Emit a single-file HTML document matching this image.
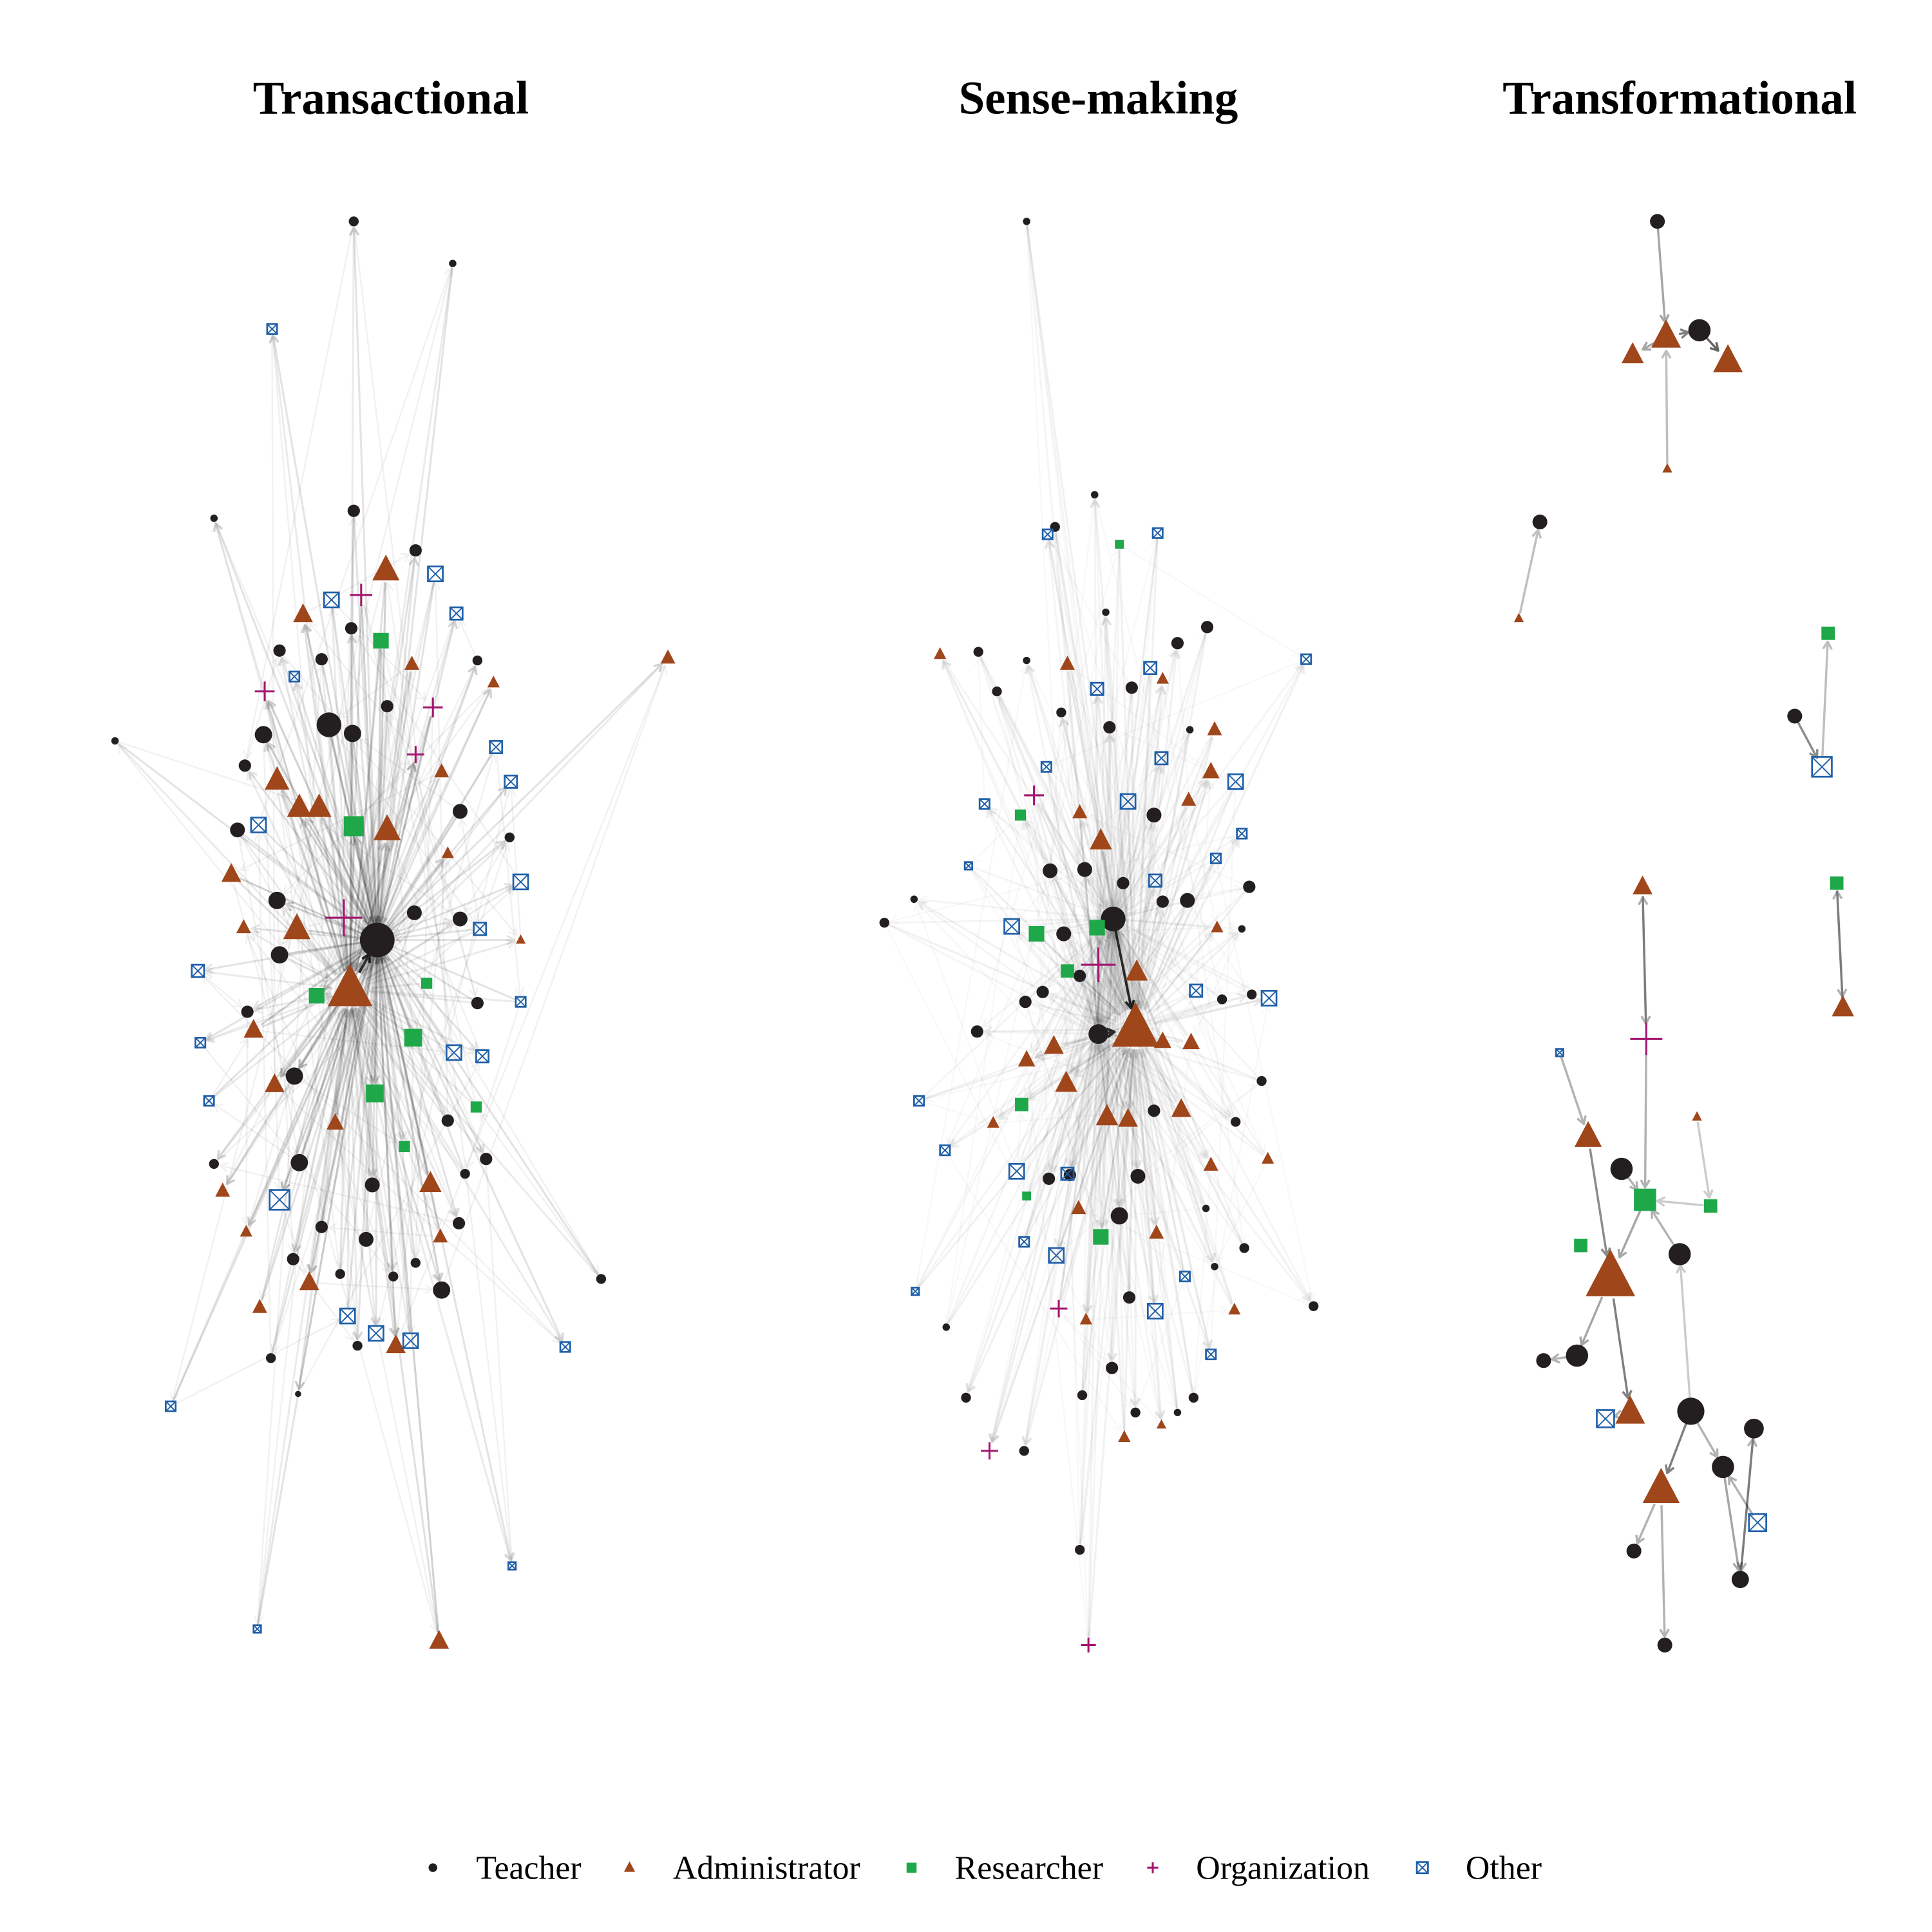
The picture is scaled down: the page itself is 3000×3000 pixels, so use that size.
<!DOCTYPE html>
<html><head><meta charset="utf-8"><style>
html,body{margin:0;padding:0;background:#fff;}
svg{display:block;}
</style></head><body>
<svg id="chart" width="3000" height="3000" viewBox="0 0 1562 1562" xmlns="http://www.w3.org/2000/svg">
<g font-family="'Liberation Serif',serif" font-weight="bold" font-size="38" text-anchor="middle" fill="#000">
<text x="316" y="92">Transactional</text>
<text x="888" y="92">Sense-making</text>
<text x="1358" y="92">Transformational</text>
</g>
<g id="edges"></g>
<g id="nodes"></g>
<g id="legend" font-family="'Liberation Serif',serif" font-size="27"></g>
</svg>
<script>
// node data: [x, y, type, size]
const p1Nodes=[[305,760,'T',14],[283,800,'A',18],
[286,179,'T',4],[366,213,'T',3],[173,419,'T',3],[286,413,'T',5],[336,445,'T',5],[93,599,'T',3],[226,526,'T',5],[260,533,'T',5],[284,508,'T',5],[313,571,'T',5],[386,534,'T',4],[266,586,'T',10],[213,594,'T',7],[285,593,'T',7],[198,619,'T',5],[372,656,'T',6],[412,677,'T',4],[192,671,'T',6],[224,728,'T',7],[335,738,'T',6],[372,743,'T',6],[226,772,'T',7],[200,818,'T',5],[386,811,'T',5],[238,870,'T',7],[362,906,'T',5],[173,941,'T',4],[242,940,'T',7],[393,937,'T',5],[376,949,'T',4],[301,958,'T',6],[260,992,'T',5],[371,989,'T',5],[296,1002,'T',6],[237,1018,'T',5],[275,1030,'T',4],[318,1032,'T',4],[336,1021,'T',4],[357,1043,'T',7],[486,1034,'T',4],[289,1088,'T',4],[219,1098,'T',4],[241,1127,'T',2.5],
[312,461,'A',11],[245,497,'A',8],[333,537,'A',6],[399,552,'A',5],[224,631,'A',10],[242,653,'A',10],[258,653,'A',10],[313,671,'A',11],[357,624,'A',6],[362,690,'A',5],[187,707,'A',8],[197,750,'A',6],[240,751,'A',11],[421,760,'A',4],[205,833,'A',8],[222,877,'A',8],[271,908,'A',7],[180,963,'A',6],[348,957,'A',9],[199,996,'A',5],[356,1000,'A',6],[250,1037,'A',8],[210,1057,'A',6],[320,1088,'A',8],[355,1327,'A',8],[540,532,'A',6],
[308,518,'R',7],[286,668,'R',9],[345,795,'R',5],[256,805,'R',7],[334,839,'R',8],[303,884,'R',8],[385,895,'R',5],[327,927,'R',5],
[292,481,'O',9],[214,559,'O',8],[350,572,'O',8],[336,610,'O',7],[278,742,'O',15],
[220,266,'X',4],[352,464,'X',6],[369,496,'X',5],[268,485,'X',6],[238,547,'X',4],[401,604,'X',5],[413,632,'X',5],[209,667,'X',6],[421,713,'X',6],[388,751,'X',5],[160,785,'X',5],[421,810,'X',4],[162,843,'X',4],[367,851,'X',6],[390,854,'X',5],[169,890,'X',4],[226,970,'X',8],[281,1064,'X',6],[304,1078,'X',6],[332,1084,'X',6],[457,1089,'X',4],[138,1137,'X',4],[414,1266,'X',3],[208,1317,'X',3]];
const p2Nodes=[[918,832,'A',19],[900,743,'T',10],[888,836,'T',8],
[830,179,'T',3],[885,400,'T',3],[853,426,'T',4],[894,495,'T',3],[976,507,'T',5],[952,520,'T',5],[791,527,'T',4],[830,534,'T',3],[806,559,'T',4],[858,576,'T',4],[915,556,'T',5],[897,588,'T',5],[962,590,'T',3],[933,659,'T',6],[849,704,'T',6],[877,703,'T',6],[908,714,'T',5],[940,729,'T',5],[960,728,'T',6],[739,727,'T',3],[715,746,'T',4],[860,755,'T',6],[1010,717,'T',5],[1004,751,'T',3],[873,789,'T',5],[790,834,'T',5],[829,810,'T',5],[843,802,'T',5],[988,808,'T',4],[1012,804,'T',4],[1020,874,'T',4],[999,907,'T',4],[933,898,'T',5],[848,953,'T',5],[865,950,'T',5],[920,951,'T',6],[975,977,'T',3],[905,983,'T',7],[1006,1009,'T',4],[982,1024,'T',3],[913,1049,'T',5],[1062,1056,'T',4],[765,1073,'T',3],[899,1106,'T',5],[875,1128,'T',4],[781,1130,'T',4],[965,1130,'T',4],[918,1142,'T',4],[952,1142,'T',3],[828,1173,'T',4],[873,1253,'T',4],
[760,529,'A',5],[863,537,'A',6],[940,549,'A',5],[982,590,'A',6],[979,624,'A',7],[961,647,'A',6],[873,657,'A',6],[890,680,'A',9],[984,750,'A',5],[919,786,'A',9],[830,857,'A',7],[852,846,'A',8],[940,842,'A',7],[963,843,'A',7],[862,876,'A',9],[895,903,'A',9],[912,905,'A',8],[955,897,'A',8],[803,908,'A',5],[1025,937,'A',5],[979,942,'A',6],[872,977,'A',6],[935,997,'A',6],[998,1059,'A',5],[878,1067,'A',5],[909,1162,'A',5],[939,1152,'A',4],
[905,440,'R',4],[825,659,'R',5],[838,755,'R',7],[887,750,'R',7],[863,785,'R',6],[826,893,'R',6],[830,967,'R',4],[890,1000,'R',7],
[836,643,'O',8],[888,780,'O',14],[856,1058,'O',7],[800,1173,'O',7],[880,1330,'O',6],
[847,432,'X',4],[936,431,'X',4],[887,557,'X',5],[930,540,'X',5],[1056,533,'X',4],[846,620,'X',4],[939,613,'X',5],[999,632,'X',6],[796,650,'X',4],[912,648,'X',6],[1004,674,'X',4],[783,700,'X',3],[934,712,'X',5],[983,694,'X',4],[818,749,'X',6],[967,801,'X',5],[1026,807,'X',6],[743,890,'X',4],[764,930,'X',4],[822,947,'X',6],[863,949,'X',5],[828,1004,'X',4],[854,1015,'X',6],[958,1032,'X',4],[934,1060,'X',6],[740,1044,'X',3],[979,1095,'X',4]];
const p3Nodes=[[1340,179,'T',6],[1374,267,'T',9],[1347,272,'A',12],[1320,287,'A',9],[1397,292,'A',12],[1348,379,'A',4],[1245,422,'T',6],[1228,500,'A',4],[1478,512,'R',6],[1451,579,'T',6],[1473,620,'X',8],[1485,714,'R',6],[1490,815,'A',9],[1328,717,'A',8],[1331,840,'O',13],[1261,851,'X',3],[1284,919,'A',11],[1372,903,'A',4],[1311,945,'T',9],[1330,970,'R',10],[1383,975,'R',6],[1278,1007,'R',6],[1358,1014,'T',9],[1302,1033,'A',20],[1275,1096,'T',9],[1248,1100,'T',6],[1298,1147,'X',7],[1318,1142,'A',12],[1367,1141,'T',11],[1418,1155,'T',8],[1393,1186,'T',9],[1343,1204,'A',15],[1421,1231,'X',7],[1321,1254,'T',6],[1407,1277,'T',7],[1346,1330,'T',6]];
// panel-3 directed edges [from, to, opacity]
const p3Edges=[[0,2,.35],[1,4,.6],[2,1,.5],[2,3,.35],[5,2,.25],[7,6,.25],[9,10,.45],[10,8,.25],[11,12,.3],[12,11,.3],[13,14,.3],[14,13,.3],[14,19,.3],[15,16,.3],[16,23,.45],[23,24,.35],[24,25,.3],[23,27,.5],[19,23,.35],[18,19,.3],[22,19,.3],[17,20,.2],[28,22,.2],[28,31,.5],[31,35,.3],[31,33,.3],[28,30,.3],[30,34,.35],[29,34,.3],[34,29,.3],[32,30,.3],[27,26,.3],[20,19,.2]];
const colors={T:'#231f20',A:'#a0461b',R:'#1fa84a',O:'#a3156e',X:'#1f5fa8'};
const typeNames={T:'teacher',A:'administrator',R:'researcher',O:'organization',X:'other'};
const legendTypes=['T','A','R','O','X'];
const legendLabels=['Teacher','Administrator','Researcher','Organization','Other'];
const legendX=[350,509,737,932,1150];
const NS='http://www.w3.org/2000/svg';
const eg=document.getElementById('edges'), ng=document.getElementById('nodes'), lg=document.getElementById('legend');
function mk(t,a,p){const e=document.createElementNS(NS,t);for(const k in a)e.setAttribute(k,a[k]);p.appendChild(e);return e;}
function drawEdge(a,b,op,w,arrow){
  const dx=b[0]-a[0],dy=b[1]-a[1],d=Math.hypot(dx,dy)||1;
  const ux=dx/d,uy=dy/d;
  const ra=a[3]*0.8+1,rb=b[3]*0.8+2;
  const x2=b[0]-ux*rb,y2=b[1]-uy*rb;
  let p=`M${a[0]+ux*ra},${a[1]+uy*ra}L${x2},${y2}`;
  if(arrow){const L=6,W=3.5;
    p+=`M${x2-ux*L-uy*W},${y2-uy*L+ux*W}L${x2},${y2}L${x2-ux*L+uy*W},${y2-uy*L-ux*W}`;}
  const l=mk('path',{d:p,stroke:'#000','stroke-opacity':op,'stroke-width':w,fill:'none','stroke-linejoin':'round'},eg);
  
  
}
function drawNode(n,parent,nameOverride){
  const [x,y,t,s]=n,c=colors[t];
  const g=mk('g',{},parent);
  if(t==='T'){mk('circle',{cx:x,cy:y,r:s,fill:c},g);}
  else if(t==='A'){mk('polygon',{points:`${x},${y-s*1.15} ${x-s},${y+s*0.75} ${x+s},${y+s*0.75}`,fill:c},g);}
  else if(t==='R'){mk('rect',{x:x-s*0.9,y:y-s*0.9,width:s*1.8,height:s*1.8,fill:c},g);}
  else if(t==='O'){mk('path',{d:`M${x-s},${y}H${x+s}M${x},${y-s}V${y+s}`,stroke:c,'stroke-width':1.6,fill:'none'},g);}
  else {mk('rect',{x:x-s,y:y-s,width:2*s,height:2*s,fill:'none',stroke:c,'stroke-width':1.4},g);mk('path',{d:`M${x-s},${y-s}L${x+s},${y+s}M${x+s},${y-s}L${x-s},${y+s}`,stroke:c,'stroke-width':1},g);}
  
  
}
function hubPanel(nodes,nh,opBase){
  const hubs=nodes.slice(0,nh);
  for(let i=nh;i<nodes.length;i++){
    const n=nodes[i];
    hubs.forEach((h,j)=>{
      const op=opBase*(j===0?1:0.7)*(n[3]>=7?1.6:1);
      if(i%2===0) drawEdge(h,n,op,1.6,true); else drawEdge(n,h,op,1.6,(i+j)%3===0);
    });
    const m=nodes[nh+((i*7)%(nodes.length-nh))];
    if(m!==n) drawEdge(n,m,opBase*0.5,1.3,true);
  }
  for(let j=1;j<nh;j++) drawEdge(hubs[j],hubs[0],0.8,2,true);
  nodes.forEach(n=>drawNode(n,ng));
}
hubPanel(p1Nodes,2,0.11);
hubPanel(p2Nodes,3,0.055);
p3Edges.forEach(e=>drawEdge(p3Nodes[e[0]],p3Nodes[e[1]],e[2],1.8,true));
p3Nodes.forEach(n=>drawNode(n,ng));
legendTypes.forEach((t,i)=>{
  drawNode([legendX[i],1510,t,t==='T'?3.5:4.5],lg,'legend-'+typeNames[t]+'-key');
  const tx=mk('text',{x:legendX[i]+35,y:1519},lg);
  tx.textContent=legendLabels[i];
  
  
});
</script>
</body></html>
